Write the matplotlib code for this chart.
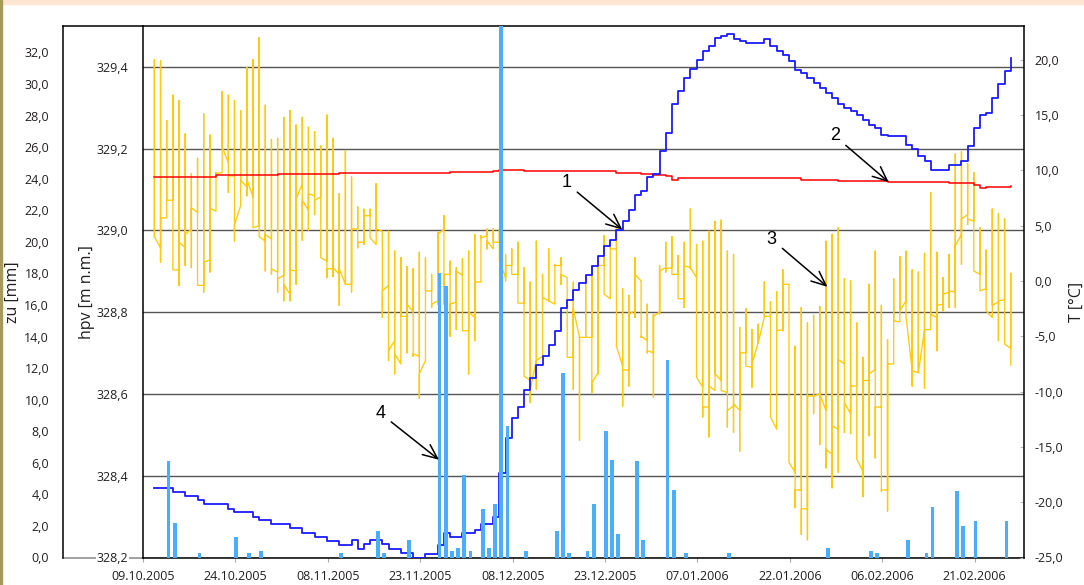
import numpy as np
import pandas as pd
import matplotlib
matplotlib.use('Agg')
import matplotlib.pyplot as plt
import matplotlib.dates as mdates
from matplotlib.lines import Line2D
from matplotlib.patches import Rectangle
from matplotlib.ticker import FixedLocator, FuncFormatter

plt.rcParams['font.family'] = ['Open Sans', 'DejaVu Sans']

start = pd.Timestamp('2005-10-09')
end = pd.Timestamp('2006-03-01')

# air temperature, one vertical per day (first, max, min, last value of the day)
t_date = pd.date_range('2005-10-10', '2006-02-26', freq='D')
t_in = [4.0, 3.0, 5.7, 7.3, 1.0, 3.0, 4.7, 6.2, -0.4, 1.9,
        6.3, 9.8, 10.7, 9.5, 6.8, 8.5, 7.6, 5.0, 3.6, 3.8,
        0.8, 0.5, -1.2, 0.9, 8.8, 6.4, 7.7, 7.6, 1.8, 1.1,
        0.6, -0.3, -0.3, 4.7, 3.5, 5.9, 3.3, 4.5, -0.4, -5.4,
        -7.5, -3.2, -2.8, -6.8, -7.2, -0.9, -1.8, 4.7, 0.6, -1.9,
        0.5, -4.5, -3.3, -0.1, 4.1, 2.9, 3.5, 0.3, 1.4, 0.6,
        -2.0, -9.0, -7.2, -6.8, -1.8, -2.1, 1.4, 0.3, -6.9, -5.1,
        -5.1, -5.1, -8.3, 1.4, -1.6, 2.9, -7.7, -8.1, -2.7, 0.0,
        -5.4, -6.5, -2.8, 1.2, 1.2, 0.6, -1.6, 1.2, 0.3, -9.6,
        -11.4, -9.9, -9.0, -10.1, -11.3, -11.7, -6.5, -7.8, -5.6, -3.3,
        -3.2, -13.4, -4.4, -0.3, -17.3, -18.9, -20.6, -10.4, -10.2, -11.7,
        -15.7, -13.4, -7.5, -12.0, -9.5, -17.2, -9.0, -8.0, -11.4, -18.9,
        -7.5, -3.7, -1.8, -8.1, -8.3, -4.4, -4.4, -3.3, -2.1, -1.0,
        -1.0, 4.2, 6.0, 5.4, 0.6, -0.7, -3.3, -1.9, -1.7, -6.1]
t_max = [20.0, 19.9, 14.5, 16.8, 16.3, 13.3, 9.7, 11.1, 15.1, 13.2,
         9.8, 17.1, 16.8, 16.3, 15.4, 19.3, 20.0, 22.0, 15.9, 12.8,
         12.9, 14.8, 15.4, 14.1, 14.8, 13.9, 13.5, 12.2, 15.0, 12.9,
         7.9, 11.8, 9.4, 6.7, 6.5, 6.5, 8.8, 4.5, 4.5, 2.7,
         2.1, 1.3, 1.1, 2.6, 2.1, 0.6, 4.4, 5.9, 1.8, 1.2,
         2.0, 2.7, 4.2, 4.1, 4.7, 4.7, 4.7, 2.4, 2.9, 3.5,
         1.2, -0.1, 3.6, 0.6, 2.9, 1.5, 2.1, 0.3, -0.1, -5.1,
         0.5, 1.4, 1.8, 4.1, 3.2, 4.7, -0.7, -1.3, 2.1, 0.0,
         -2.1, -3.0, 1.4, 3.5, 4.0, 2.3, 3.5, 6.5, 3.3, 3.6,
         4.5, 5.4, 5.5, 2.7, 2.4, -4.2, -2.5, -4.4, -3.9, -0.1,
         -1.9, -1.0, 1.0, -0.3, -5.9, -2.4, -3.8, -3.1, -2.3, 3.6,
         4.2, 4.8, 0.2, 0.0, -3.8, -6.9, -0.3, 2.7, -2.2, -5.3,
         0.2, 2.2, 2.7, 1.0, 0.8, 2.5, 8.0, 2.6, 0.3, 2.4,
         11.5, 11.7, 10.6, 9.8, 4.8, 2.8, 6.5, 6.1, 5.6, 0.7]
t_min = [4.0, 1.7, 5.7, 1.0, -0.4, 1.4, 1.2, -0.4, -1.0, 0.8,
         6.3, 9.8, 8.0, 3.6, 6.8, 7.7, 4.8, 4.0, 0.9, 0.6,
         -1.0, -1.8, -1.8, -0.3, 3.7, 4.6, 6.0, 2.1, 0.3, 0.4,
         -2.2, -0.3, -1.0, 3.0, 3.3, 3.9, 3.3, -3.3, -7.2, -8.4,
         -7.5, -6.5, -6.8, -10.6, -7.2, -2.4, -2.1, -2.1, -5.0, -4.4,
         -4.5, -8.4, -5.4, -0.1, 2.9, 2.9, 2.4, 0.0, 0.6, -2.0,
         -8.6, -11.0, -9.8, -6.8, -1.8, -2.1, -0.3, -6.9, -9.8, -14.4,
         -5.1, -10.1, -8.4, -1.2, -1.6, -5.9, -11.3, -9.5, -3.3, -5.1,
         -6.5, -10.5, -3.0, 0.8, 0.6, -1.6, -2.4, 1.1, -8.7, -12.3,
         -14.1, -9.9, -9.9, -13.2, -13.7, -15.4, -7.7, -9.6, -5.6, -3.3,
         -12.3, -13.4, -4.5, -16.4, -20.5, -22.9, -23.4, -12.0, -14.8, -16.9,
         -18.7, -17.3, -13.7, -13.8, -16.1, -19.5, -14.0, -16.0, -19.0, -20.8,
         -7.5, -3.7, -3.2, -9.5, -8.3, -9.7, -4.4, -6.3, -2.7, -2.4,
         -2.4, 1.5, 5.1, 0.9, -0.9, -2.7, -3.3, -5.4, -5.7, -7.6]
t_out = [4.0, 5.7, 7.3, 1.0, 3.5, 4.2, 6.6, -0.4, 1.7, 6.6,
         9.7, 12.1, 9.5, 5.1, 9.1, 9.2, 4.8, 4.0, 4.2, 1.1,
         0.2, -0.3, 1.0, 7.4, 7.3, 7.9, 7.3, 2.1, 1.1, 1.2,
         1.1, -0.3, 4.7, 3.5, 5.9, 3.9, 4.7, -0.9, -6.3, -6.6,
         -3.2, -2.1, -6.6, -8.4, -0.9, -2.1, 4.2, 0.6, -2.1, 0.9,
         -4.5, -2.8, -0.1, 3.9, 3.6, 3.5, 1.8, 1.4, 0.6, -2.0,
         -8.6, -9.8, -7.2, -1.5, -1.8, 1.4, 0.6, -6.9, -2.5, -5.1,
         -5.1, -9.2, 1.4, -1.2, 2.9, -5.9, -8.0, -3.0, 0.6, -5.0,
         -6.3, -3.2, 0.9, 1.1, 0.6, -1.6, 1.4, 1.2, -8.7, -11.4,
         -9.5, -8.4, -9.9, -11.7, -11.1, -6.5, -7.7, -7.5, -5.6, -3.2,
         -12.3, -4.5, -0.3, -16.4, -18.9, -20.6, -10.4, -10.4, -10.2, -15.2,
         -13.1, -7.1, -11.0, -9.5, -16.1, -9.0, -8.4, -11.4, -18.9, -7.5,
         -3.6, -2.7, -3.2, -8.1, -8.3, -4.4, -3.0, -2.2, -1.2, -0.9,
         3.2, 5.6, 5.6, 0.9, -0.9, -2.7, -2.2, -1.8, -5.7, -7.6]

# groundwater level hpv: day (from 09.10.2005) where the level changes, new level
hpv_day = [1, 4, 6, 8, 9, 13, 14, 17, 18, 20,
           23, 25, 27, 29, 31, 33, 34, 35, 36, 38,
           39, 41, 43, 45, 47, 48, 49, 51, 53, 54,
           56, 57, 58, 59, 60, 61, 62, 63, 64, 65,
           66, 67, 68, 69, 70, 71, 72, 73, 74, 75,
           76, 77, 78, 79, 80, 81, 82, 83, 84, 85,
           86, 87, 88, 89, 90, 91, 92, 93, 94, 95,
           96, 97, 100, 101, 102, 103, 104, 105, 106, 107,
           108, 109, 110, 111, 112, 113, 114, 115, 116, 117,
           118, 119, 120, 123, 124, 125, 126, 127, 130, 132,
           133, 134, 135, 136, 137, 138, 139, 140]
hpv_level = [328.369, 328.361, 328.351, 328.340, 328.332, 328.318, 328.312, 328.299, 328.291, 328.281,
             328.271, 328.260, 328.251, 328.241, 328.231, 328.242, 328.222, 328.232, 328.242, 328.232,
             328.221, 328.210, 328.198, 328.208, 328.230, 328.259, 328.251, 328.259, 328.268, 328.281,
             328.299, 328.406, 328.492, 328.541, 328.569, 328.610, 328.639, 328.670, 328.692, 328.720,
             328.753, 328.810, 328.830, 328.855, 328.871, 328.892, 328.912, 328.937, 328.961, 328.977,
             329.002, 329.024, 329.051, 329.087, 329.096, 329.130, 329.137, 329.194, 329.238, 329.308,
             329.340, 329.373, 329.396, 329.418, 329.438, 329.451, 329.471, 329.475, 329.481, 329.467,
             329.463, 329.459, 329.467, 329.451, 329.438, 329.430, 329.414, 329.393, 329.385, 329.373,
             329.361, 329.349, 329.336, 329.324, 329.308, 329.300, 329.292, 329.283, 329.271, 329.259,
             329.251, 329.234, 329.230, 329.210, 329.198, 329.181, 329.169, 329.149, 329.161, 329.169,
             329.206, 329.251, 329.283, 329.287, 329.324, 329.357, 329.391, 329.422]

# second level (red)
red_day = [1, 11, 21, 31, 33, 49, 56, 57, 61, 72, 76, 80, 82, 84,
           85, 86, 87, 101, 106, 112, 120, 127, 130, 134, 135, 136, 140]
red_level = [329.130, 329.136, 329.138, 329.140, 329.141, 329.143, 329.145, 329.149, 329.146,
             329.145, 329.141, 329.138, 329.136, 329.132, 329.124, 329.127, 329.128, 329.127,
             329.124, 329.120, 329.119, 329.118, 329.115, 329.112, 329.104, 329.106, 329.108]

# precipitation zu [mm]
rain_day = [4, 5, 9, 15, 17, 19, 32, 38, 39, 43,
            48, 49, 50, 51, 52, 53, 55, 56, 57, 58,
            59, 62, 67, 68, 69, 72, 73, 75, 76, 77,
            80, 81, 85, 86, 88, 95, 111, 118, 119, 124,
            127, 128, 132, 133, 135, 140]
rain_mm = [6.1, 2.2, 0.3, 1.3, 0.3, 0.4, 0.3, 1.7, 0.3, 1.1,
           18.0, 17.2, 0.4, 0.6, 5.2, 0.4, 3.1, 0.6, 3.4, 40.0,
           8.3, 0.4, 1.7, 11.7, 0.3, 0.4, 3.4, 8.0, 6.2, 1.5,
           6.1, 1.1, 12.5, 4.3, 0.3, 0.3, 0.6, 0.4, 0.3, 1.1,
           0.3, 3.2, 4.2, 2.0, 2.3, 2.3]

hpv_ticks = [328.2, 328.4, 328.6, 328.8, 329.0, 329.2, 329.4]
zu_ticks = [0, 2, 4, 6, 8, 10, 12, 14, 16, 18, 20, 22, 24, 26, 28, 30, 32]
t_ticks = [-25, -20, -15, -10, -5, 0, 5, 10, 15, 20]
x_ticks = pd.date_range('2005-10-09', '2006-02-21', freq='15D')

# numbered callouts: label, text (day, hpv), arrow tip (day, hpv)
callouts = [('1', (68.7, 329.116), (77.8, 329.002)),
            ('2', (112.3, 329.231), (121.05, 329.118)),
            ('3', (102.0, 328.979), (111.1, 328.862)),
            ('4', (38.5, 328.553), (48.05, 328.439))]


def comma(v, pos=None):
    s = '%.1f' % v
    if s == '-0.0':
        s = '0.0'
    return s.replace('.', ',')


x0 = mdates.date2num(start)
line_shift = 0.85
bar_shift = 0.15

fig = plt.figure(figsize=(10.84, 5.85), dpi=100)
fig.patch.set_facecolor('white')
fig.patches.append(Rectangle((0, 1 - 4 / 585), 1, 4 / 585, transform=fig.transFigure,
                             color='#fce6d2', zorder=-3))
fig.patches.append(Rectangle((0, 0), 2 / 1084, 1, transform=fig.transFigure,
                             color='#a59a5a', zorder=-3))

L, B, W, H = 143 / 1084, 27.5 / 585, 881 / 1084, 531.5 / 585
ax = fig.add_axes([L, B, W, H])
ax_t = ax.twinx()
ax_l = ax.twinx()
ax_zu = ax.twinx()
for i, a in enumerate([ax, ax_t, ax_l, ax_zu]):
    a.set_zorder(i + 1)
    for s in a.spines.values():
        s.set_visible(False)

ax.set_xlim(x0, mdates.date2num(end))
ax.set_ylim(328.2, 329.5)
ax_l.set_ylim(328.2, 329.5)
ax_t.set_ylim(-25, 23.05)
ax_zu.set_ylim(0, 33.67)

# temperature
tx = np.repeat(mdates.date2num(t_date) + line_shift, 4)
ty = np.column_stack([t_in, t_max, t_min, t_out]).ravel()
ax_t.plot(tx, ty, color='#ffc90e', lw=0.95)

# levels
ax_l.step(x0 + np.array(red_day) + line_shift, red_level, where='post', color='#ff0000', lw=1.1)
ax_l.step(x0 + np.array(hpv_day) + line_shift, hpv_level, where='post', color='#1a1aff', lw=1.3)

# rain
ax_zu.bar(x0 + np.array(rain_day) + bar_shift, rain_mm, width=0.6, color='#4aaeff', lw=0)

# hpv axis with grid
ax.yaxis.set_major_locator(FixedLocator(hpv_ticks))
ax.yaxis.set_major_formatter(FuncFormatter(comma))
ax.tick_params(axis='y', length=0, pad=10.5, labelsize=9, labelcolor='#231f20')
ax.grid(axis='y', color='#555555', lw=1.0)
ax.set_ylabel('hpv [m n.m.]', fontsize=11.5, color='#231f20')
ax.yaxis.set_label_coords(-0.054, 0.5)
for s in ['left', 'top', 'bottom']:
    ax.spines[s].set_visible(True)
    ax.spines[s].set_color('black')
    ax.spines[s].set_linewidth(1.1)
for lbl in ax.get_yticklabels():
    lbl.set_bbox(dict(fc='white', ec='none', pad=0.5))

ax.xaxis.set_major_locator(FixedLocator(mdates.date2num(x_ticks)))
ax.xaxis.set_major_formatter(mdates.DateFormatter('%d.%m.%Y'))
ax.tick_params(axis='x', direction='out', length=3, color='#aaaaaa', pad=6,
               labelsize=9, labelcolor='#231f20')

# temperature axis on the right
ax_t.yaxis.set_major_locator(FixedLocator(t_ticks))
ax_t.yaxis.set_major_formatter(FuncFormatter(comma))
ax_t.tick_params(axis='y', direction='in', length=3, color='#bbbbbb', pad=7.5,
                 labelsize=9, labelcolor='#231f20')
ax_t.spines['right'].set_visible(True)
ax_t.spines['right'].set_color('black')
ax_t.spines['right'].set_linewidth(1.1)
ax_t.set_ylabel('T [°C]', fontsize=11.5, color='#231f20')
ax_t.yaxis.set_label_coords(1.051, 0.48)

ax_l.set_yticks([])

# rain axis, outer left
ax_zu.yaxis.tick_left()
ax_zu.yaxis.set_label_position('left')
ax_zu.spines['left'].set_visible(True)
ax_zu.spines['left'].set_position(('outward', 80 * 0.72))
ax_zu.spines['left'].set_color('black')
ax_zu.spines['left'].set_linewidth(1.1)
ax_zu.yaxis.set_major_locator(FixedLocator(zu_ticks))
ax_zu.yaxis.set_major_formatter(FuncFormatter(comma))
ax_zu.tick_params(axis='y', length=0, pad=10, labelsize=9, labelcolor='#231f20')
ax_zu.set_ylabel('zu [mm]', fontsize=11.5, color='#231f20')
ax_zu.yaxis.set_label_coords(-0.139, 0.5)

# box lines of the outer axis
fig.add_artist(Line2D([63 / 1084, L], [B + H, B + H], color='black', lw=1.1, zorder=-1))
fig.add_artist(Line2D([63 / 1084, L], [B, B], color='#888888', lw=1.1, zorder=-1))

for label, txt, tip in callouts:
    ax_zu.annotate(label, xy=(x0 + tip[0], tip[1]), xycoords=ax_l.transData,
                   xytext=(x0 + txt[0], txt[1]), textcoords=ax_l.transData,
                   fontsize=13, family='Liberation Sans', ha='center', va='center',
                   arrowprops=dict(arrowstyle='->,head_length=0.8,head_width=0.35',
                                   color='black', lw=1.1, shrinkA=3, shrinkB=0))

fig.savefig('out.png', dpi=100)
